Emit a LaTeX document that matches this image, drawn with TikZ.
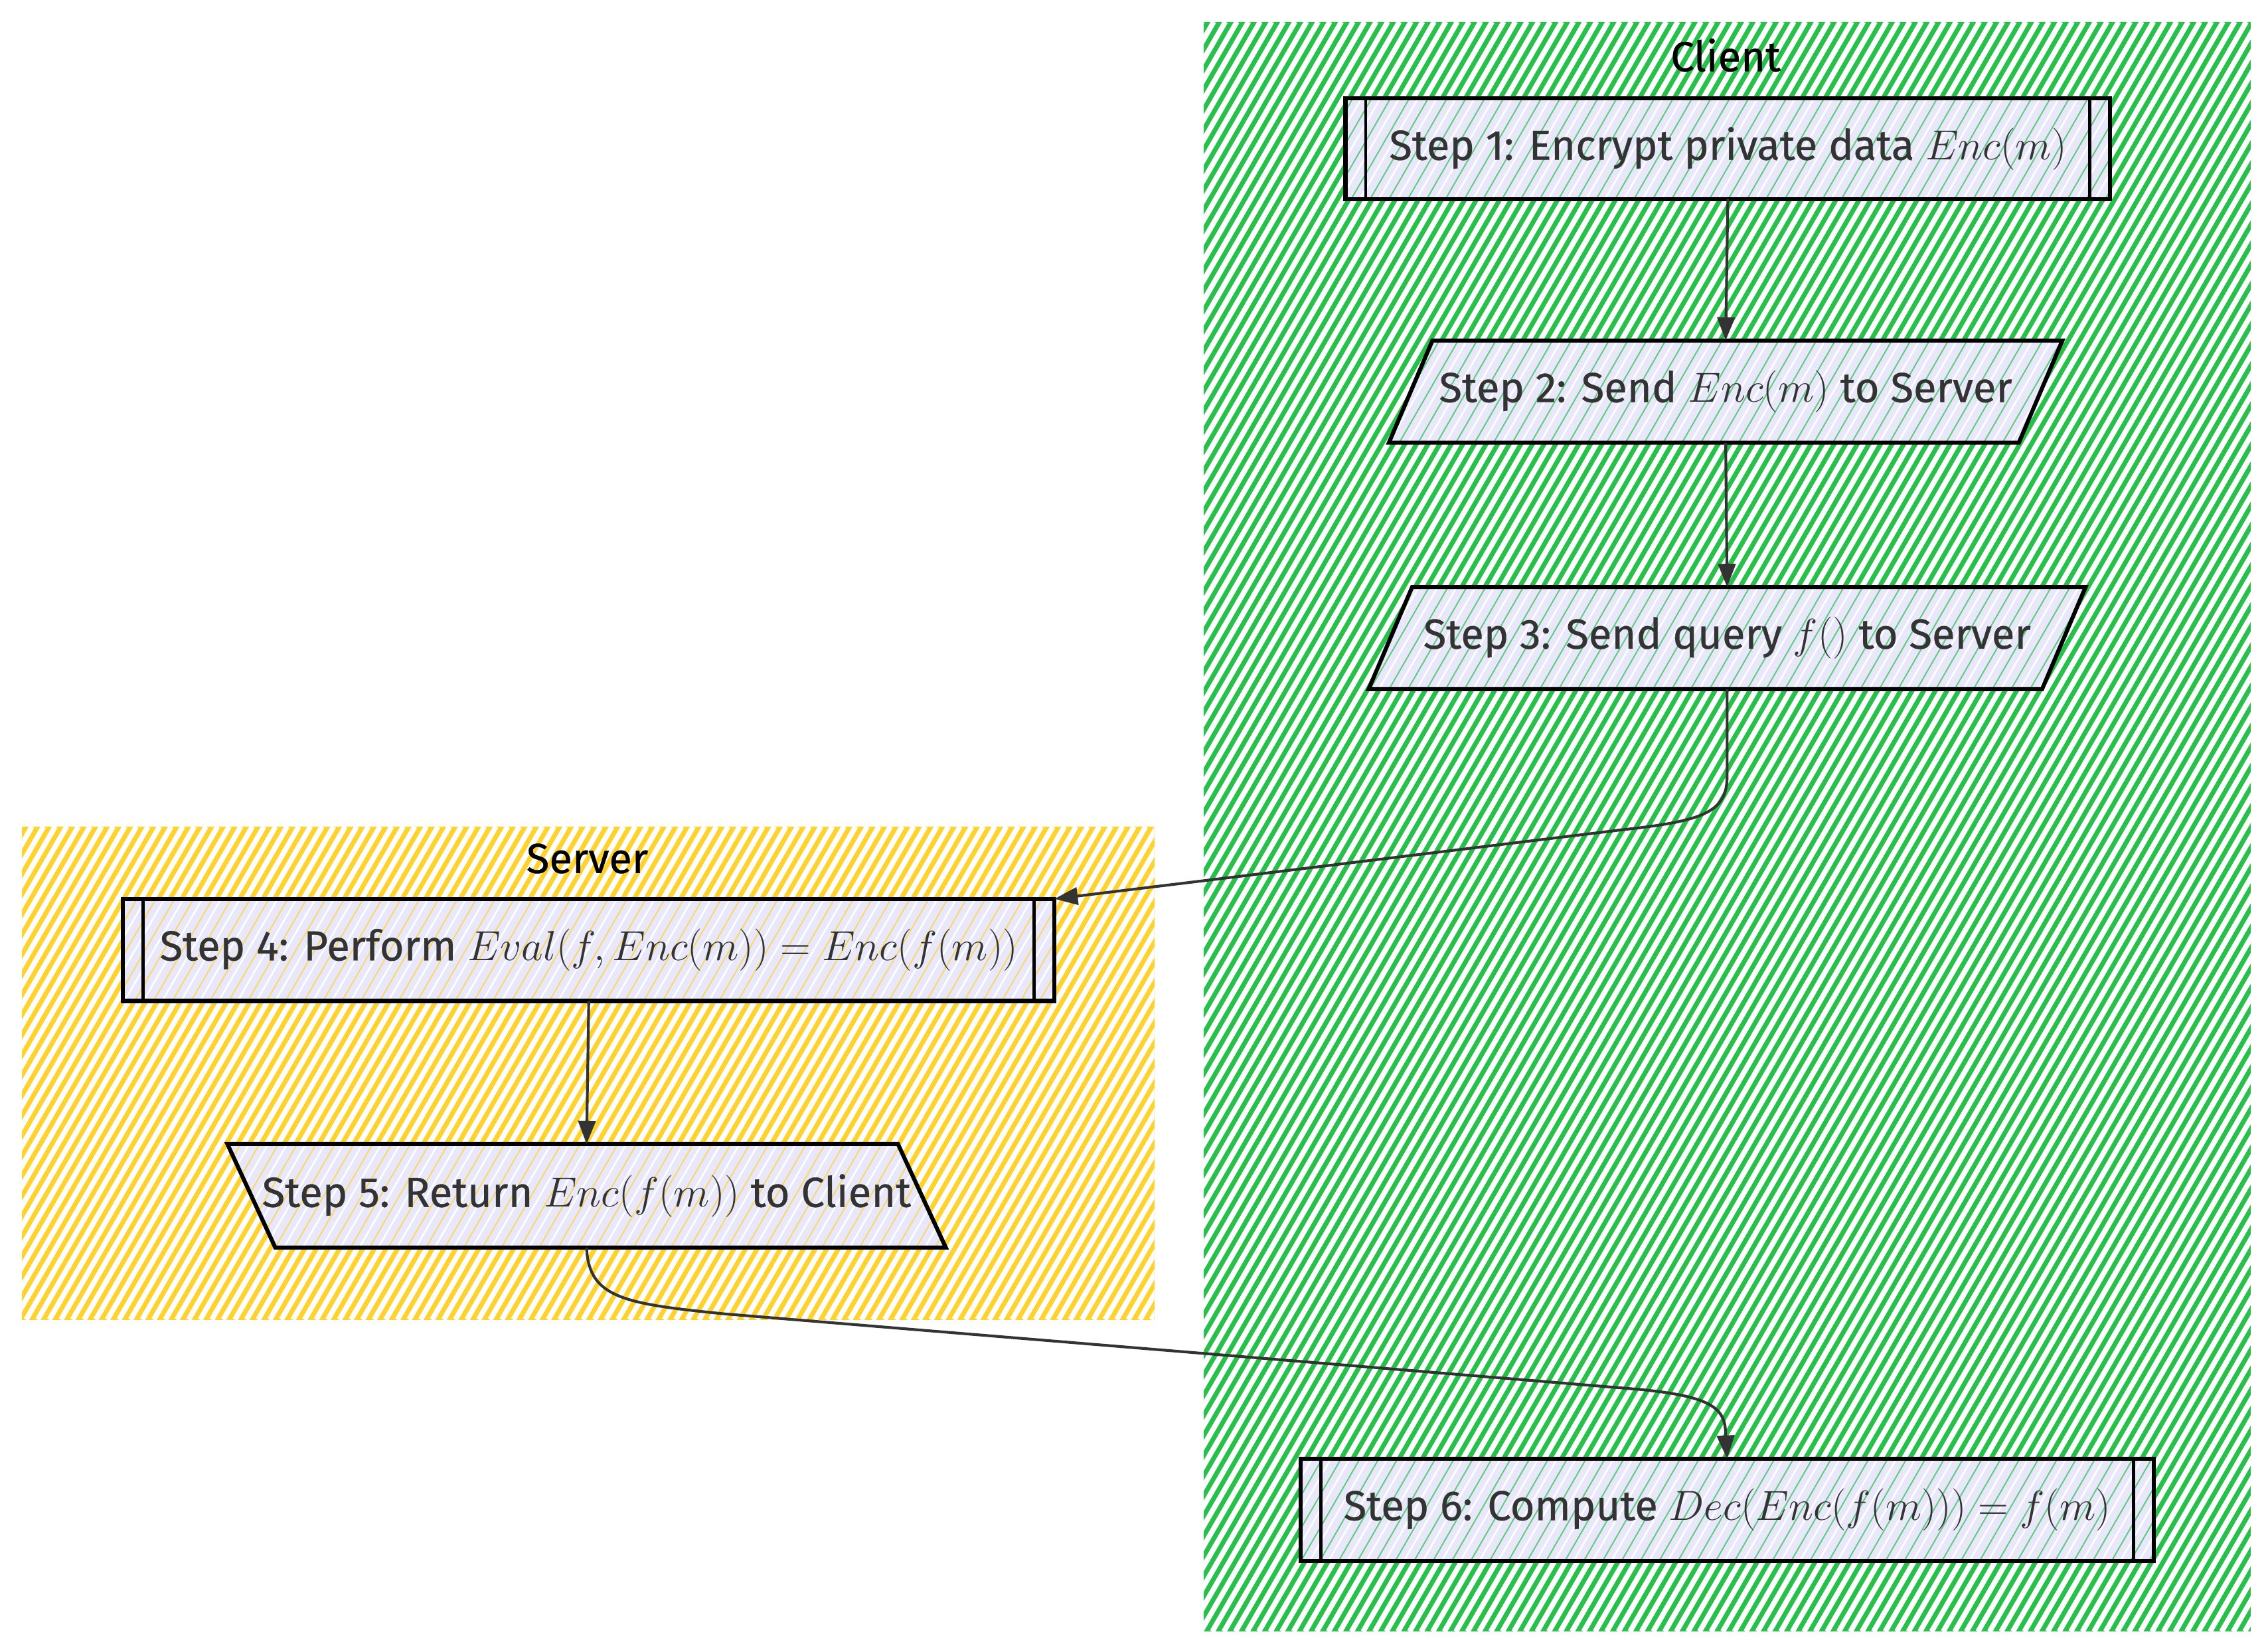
\documentclass[tikz,border=0pt]{standalone}
\usepackage{fix-cm}
\usepackage{fontspec}
\setmainfont{Fira Sans}
\newfontfamily\lblfont[FakeBold=0.5]{Fira Sans}
\usetikzlibrary{arrows.meta,calc}
\pgfdeclarelayer{bg}
\pgfdeclarelayer{mid}
\pgfsetlayers{bg,mid,main}
\definecolor{cgreen}{RGB}{38,192,74}
\definecolor{cyellow}{RGB}{255,210,45}
\definecolor{lav}{RGB}{232,232,250}
\definecolor{ink}{RGB}{51,51,51}
\tikzset{
  lbl/.style={inner sep=0pt, text=ink, font=\lblfont\fontsize{29}{34}\selectfont},
  ttl/.style={inner sep=0pt, text=black, font=\lblfont\fontsize{29}{34}\selectfont},
  outline/.style={draw=black, line width=2.8pt, line join=miter},
  edge/.style={draw=ink, line width=1.9pt, -{Triangle[length=16pt,width=12pt]}},
}
\newcommand\hatchfill[1]{%
  \foreach \i in {0,...,170} {
    \draw[#1, line width=0.9pt, opacity=0.7] ({-660+13*\i},1139) -- ++(657,-1139);
    \draw[white, line width=1.2pt] ({-654+13*\i},1139) -- ++(657,-1139);
  }%
}
\newcommand\subbox[2]{%
  \begin{pgfonlayer}{mid}
  \begin{scope}
    \clip (#1.south west) rectangle (#1.north east);
    \fill[lav] (#1.south west) rectangle (#1.north east);
    \hatchfill{#2}
  \end{scope}
  \draw[outline] (#1.south west) rectangle (#1.north east);
  \draw[black, line width=2.2pt] ($(#1.north west)+(14,0)$) -- ($(#1.south west)+(14,0)$);
  \draw[black, line width=2.2pt] ($(#1.north east)+(-14,0)$) -- ($(#1.south east)+(-14,0)$);
  \end{pgfonlayer}%
}
% #1 name, #2 colour, #3 slant (positive: top shifted right)
\newcommand\slantbox[3]{%
  \begin{pgfonlayer}{mid}
  \begin{scope}
    \clip ($(#1.north west)+(#3,0)$) -- ($(#1.north east)+(#3,0)$) -- ($(#1.south east)+(-#3,0)$) -- ($(#1.south west)+(-#3,0)$) -- cycle;
    \fill[lav] ($(#1.south west)+(-40,0)$) rectangle ($(#1.north east)+(40,0)$);
    \hatchfill{#2}
  \end{scope}
  \draw[outline] ($(#1.north west)+(#3,0)$) -- ($(#1.north east)+(#3,0)$) -- ($(#1.south east)+(-#3,0)$) -- ($(#1.south west)+(-#3,0)$) -- cycle;
  \end{pgfonlayer}%
}
\begin{document}
\begin{tikzpicture}[x=1pt,y=-1pt]
\useasboundingbox (0,0) rectangle (1564,1139);

% clusters
\begin{pgfonlayer}{bg}
\fill[white] (0,0) rectangle (1564,1139);
\fill[cgreen] (830,15) rectangle (1552,1125);
\begin{scope}
  \clip (830,15) rectangle (1552,1125);
  \foreach \i in {0,...,175} {
    \draw[white, line width=3.6pt] ({180+8*\i},1125) -- ++(641,-1110);
  }
\end{scope}
\fill[cyellow] (15,570) rectangle (796,910);
\begin{scope}
  \clip (15,570) rectangle (796,910);
  \foreach \i in {0,...,125} {
    \draw[white, line width=3.6pt] ({-190+8*\i},910) -- ++(196,-340);
  }
\end{scope}
\end{pgfonlayer}

\node[ttl] (tclient) at (1190,38) {Client};
\node[ttl] (tserver) at (405,592) {Server};

\node[lbl, minimum width=527pt, minimum height=69pt] (s1) at (1191.5,102.5)
  {Step 1: Encrypt private data $Enc(m)$};
\node[lbl, minimum width=434pt, minimum height=70pt] (s2) at (1190,270)
  {Step 2: Send $Enc(m)$ to Server};
\node[lbl, minimum width=464pt, minimum height=70pt] (s3) at (1191,440)
  {Step 3: Send query $f()$ to Server};
\node[lbl, minimum width=642pt, minimum height=70pt] (s4) at (406,655)
  {Step 4: Perform $Eval(f,Enc(m))=Enc(f(m))$};
\node[lbl, minimum width=462pt, minimum height=71pt] (s5) at (404.5,824.5)
  {Step 5: Return $Enc(f(m))$ to Client};
\node[lbl, minimum width=588pt, minimum height=70pt] (s6) at (1191,1041)
  {Step 6: Compute $Dec(Enc(f(m)))=f(m)$};

\subbox{s1}{cgreen}
\slantbox{s2}{cgreen}{15}
\slantbox{s3}{cgreen}{15}
\subbox{s4}{cyellow}
\slantbox{s5}{cyellow}{-16.5}
\subbox{s6}{cgreen}

\draw[edge] (s1.south) -- (s2.north);
\draw[edge] (s2.south) -- (s3.north);
\draw[edge] (s3.south) -- (1191,535) .. controls (1191,560) and (1175,566) .. (1120,572) -- (s4.north east);
\draw[edge] (s4.south) -- (s5.north);
\draw[edge] (s5.south) .. controls (406,895) and (430,899) .. (500,906) -- (1130,958) .. controls (1183,963) and (1190,972) .. (1190,990) -- (s6.north);
\end{tikzpicture}
\end{document}
